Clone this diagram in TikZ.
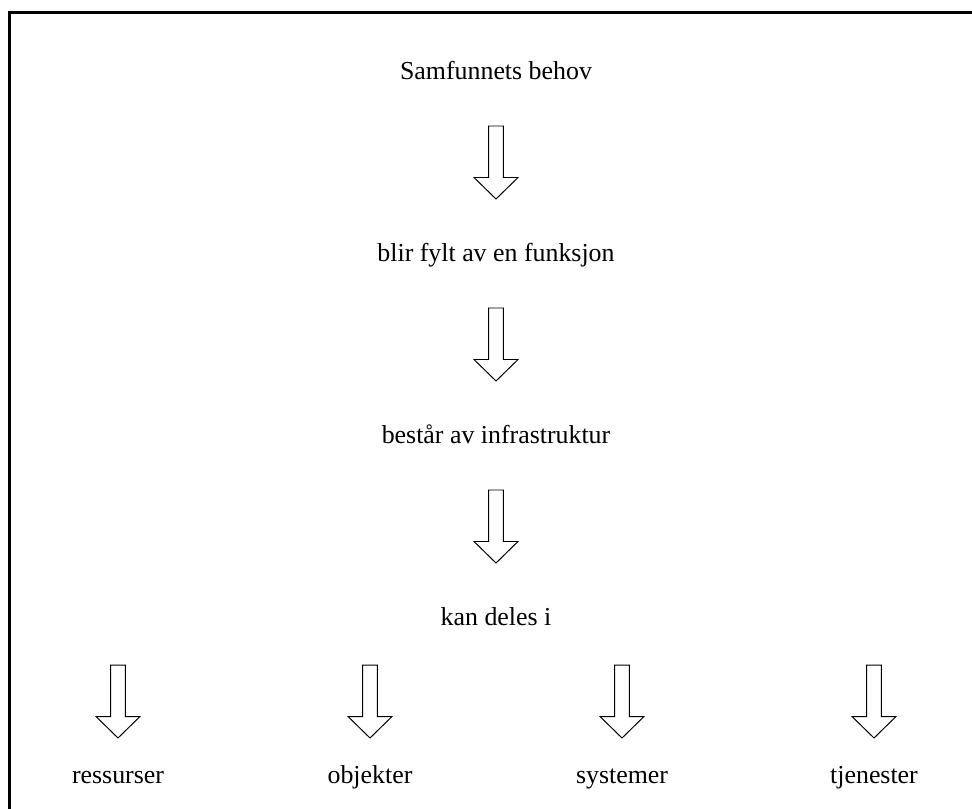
\documentclass[tikz,border=0pt]{standalone}
\usepackage{fontspec}
\setmainfont{Liberation Serif}
\usetikzlibrary{calc}

\tikzset{
 tekst/.style={font=\fontsize{18.4}{22}\selectfont, text height=12.2pt, text depth=0pt, inner sep=0pt},
 pil/.style={draw=black, line width=0.7pt,
  to path={($(\tikztostart)!.5!(\tikztotarget)+(0,#1)$) +(-7.3,-35.5) -- +(7.3,-35.5) -- +(7.3,16)
   -- +(22,16) -- +(0,37.5) -- +(-22,16) -- +(-7.3,16) -- cycle}},
 pil/.default=0
}
\newcommand{\steg}[3]{%
 \node[tekst] ({#1}) at ({#2}) {#3};%
}

\begin{document}
\begin{tikzpicture}[x=0.025cm,y=-0.025cm]
 \useasboundingbox (0,0) rectangle (972,808);
 \clip (0,0) rectangle (972,808);
 \draw[line width=2.1pt] (9.5,12.7) rectangle (990,830);
 \steg{behov}{496,70.5}{Samfunnets behov}
 \steg{funksjon}{496,252.5}{blir fylt av en funksjon}
 \steg{infra}{496,434.5}{består av infrastruktur}
 \steg{deles}{496,616.5}{kan deles i}
 \steg{ressurser}{118,774.5}{ressurser}
 \steg{objekter}{370,774.5}{objekter}
 \steg{systemer}{622,774.5}{systemer}
 \steg{tjenester}{874,774.5}{tjenester}
 \draw[pil] (behov) to (funksjon);
 \draw[pil] (funksjon) to (infra);
 \draw[pil] (infra) to (deles);
 \foreach \m in {ressurser,objekter,systemer,tjenester}
  \draw[pil=5] (deles -| \m) to (\m);
\end{tikzpicture}
\end{document}
